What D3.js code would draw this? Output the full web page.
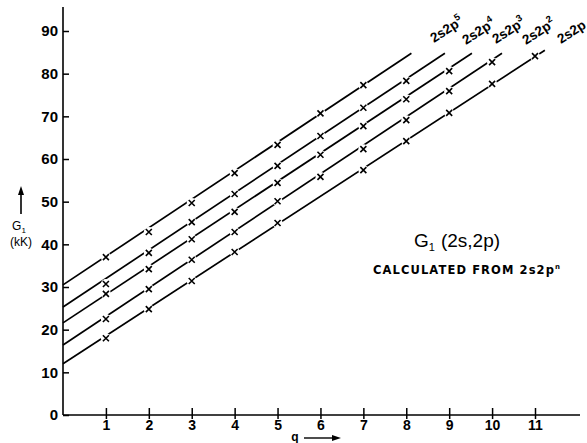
<!DOCTYPE html>
<html><head><meta charset="utf-8">
<script src="https://cdn.jsdelivr.net/npm/d3@7/dist/d3.min.js"></script>
<style>
body{margin:0;background:#fff;}
svg{display:block;font-family:"Liberation Sans",Arial,sans-serif;}
</style></head>
<body><svg id="c" width="587" height="443"></svg>
<script>
// ---- data ----
const qTicks = [1,2,3,4,5,6,7,8,9,10,11];
const yTicks = [0,10,20,30,40,50,60,70,80,90];
const seriesBase = ["2s2p","2s2p","2s2p","2s2p","2s2p"];
const seriesSup = ["5","4","3","2",""];
const g_2s2p5 = [37.0,42.9,49.7,56.7,63.3,70.7,77.3,null,null,null,null];
const g_2s2p4 = [30.7,38.0,45.2,51.8,58.4,65.4,72.0,78.3,null,null,null];
const g_2s2p3 = [28.4,34.2,41.2,47.6,54.4,61.0,67.7,74.0,80.6,null,null];
const g_2s2p2 = [22.5,29.5,36.4,42.9,50.1,55.8,62.3,69.1,75.9,82.7,null];
const g_2s2p1 = [18.0,24.8,31.4,38.2,45.0,null,57.4,64.2,70.8,77.6,84.1];
const fitStartG = [30.5,25.3,21.6,16.4,12.0];   // value at q = 0
const fitEndQ = [8.12,8.9,9.53,10.23,11.23];
const fitEndG = [84.8,84.8,84.8,84.8,85.5];
const seriesValues = [g_2s2p5,g_2s2p4,g_2s2p3,g_2s2p2,g_2s2p1];

// ---- layout ----
const svg = d3.select("#c");
const x = d3.scaleLinear().domain([0,11]).range([63,535]);
const y = d3.scaleLinear().domain([0,90]).range([415,31]);

// axes lines
svg.append("line").attr("x1",x(0)).attr("x2",580).attr("y1",y(0)).attr("y2",y(0))
  .attr("stroke","#000").attr("stroke-width",1.6);
svg.append("line").attr("x1",x(0)).attr("x2",x(0)).attr("y1",y(0)).attr("y2",7)
  .attr("stroke","#000").attr("stroke-width",1.6);

// y axis
const yAx = svg.append("g").attr("transform",`translate(${x(0)},0)`)
  .call(d3.axisLeft(y).tickValues(yTicks).tickSize(-6).tickPadding(5).tickFormat(d3.format("d")));
yAx.select(".domain").remove();
yAx.selectAll(".tick line").attr("stroke","#000").attr("stroke-width",1.5);
yAx.selectAll(".tick text").attr("font-size",15).attr("font-weight","bold").attr("fill","#000")
  .attr("font-family","'Liberation Sans',Arial,sans-serif");

// x axis
const xAx = svg.append("g").attr("transform",`translate(0,${y(0)})`)
  .call(d3.axisBottom(x).tickValues(qTicks).tickSize(-7).tickPadding(5).tickFormat(d3.format("d")));
xAx.select(".domain").remove();
xAx.selectAll(".tick line").attr("stroke","#000").attr("stroke-width",1.5).attr("y2",4).attr("y1",-7);
xAx.selectAll(".tick text").attr("font-size",14).attr("font-weight","bold").attr("fill","#000")
  .attr("font-family","'Liberation Sans',Arial,sans-serif");

// fit lines
const lineGen = d3.line().x(d=>x(d[0])).y(d=>y(d[1]));
seriesValues.forEach((vals,i)=>{
  svg.append("path").datum([[0,fitStartG[i]],[fitEndQ[i],fitEndG[i]]])
    .attr("d",lineGen).attr("stroke","#000").attr("stroke-width",1.7).attr("fill","none");
});

// points (x marks with small gaps in the line)
seriesValues.forEach((vals,i)=>{
  const pts = vals.map((v,j)=>({q:qTicks[j],v})).filter(d=>d.v!=null);
  const g = svg.append("g");
  g.selectAll("circle").data(pts).join("circle")
    .attr("cx",d=>x(d.q)).attr("cy",d=>y(d.v)).attr("r",5).attr("fill","#fff");
  g.selectAll("path").data(pts).join("path")
    .attr("d",d=>{const cx=x(d.q),cy=y(d.v),s=3;
      return `M${cx-s},${cy-s}L${cx+s},${cy+s}M${cx-s},${cy+s}L${cx+s},${cy-s}`;})
    .attr("stroke","#000").attr("stroke-width",1.6).attr("fill","none");
});

// series labels (rotated)
const labelPos = [[434,43],[466,45],[496,44],[526,45],[561,44]];
seriesBase.forEach((b,i)=>{
  const t = svg.append("text").attr("transform",`translate(${labelPos[i][0]},${labelPos[i][1]}) rotate(-33)`)
    .attr("font-size",13.5).attr("font-weight","bold").attr("fill","#000");
  t.append("tspan").text(b);
  if(seriesSup[i]) t.append("tspan").attr("dy",-6).attr("font-size",9.5).text(seriesSup[i]);
});

// y axis title
svg.append("line").attr("x1",21).attr("x2",21).attr("y1",214).attr("y2",193).attr("stroke","#000").attr("stroke-width",1.6);
svg.append("path").attr("d","M21,186 L18,195 L24,195 Z").attr("fill","#000");
const gt = svg.append("text").attr("x",19).attr("y",230).attr("text-anchor","middle").attr("font-size",12).attr("fill","#000");
gt.append("tspan").text("G");
gt.append("tspan").attr("dy",3).attr("font-size",8).text("1");
svg.append("text").attr("x",21).attr("y",246).attr("text-anchor","middle").attr("font-size",12).attr("fill","#000").text("(kK)");

// x axis title
svg.append("text").attr("x",295).attr("y",441).attr("text-anchor","middle").attr("font-size",12).attr("font-weight","bold").attr("fill","#000").text("q");
svg.append("line").attr("x1",304).attr("x2",334).attr("y1",438).attr("y2",438).attr("stroke","#000").attr("stroke-width",1.4);
svg.append("path").attr("d","M341,438 L332,435 L332,441 Z").attr("fill","#000");

// annotations
const t1 = svg.append("text").attr("x",414).attr("y",247).attr("font-size",19).attr("fill","#000");
t1.append("tspan").text("G");
t1.append("tspan").attr("dy",4).attr("font-size",11).text("1");
t1.append("tspan").attr("dy",-4).attr("dx",6).text("(2s,2p)");
const t2 = svg.append("text").attr("x",373).attr("y",274).attr("font-size",11.5).attr("font-weight","bold")
  .attr("font-family","'DejaVu Sans',sans-serif").attr("letter-spacing",1.1).attr("fill","#000");
t2.append("tspan").text("CALCULATED FROM  2s2p");
t2.append("tspan").attr("dy",-5).attr("font-size",7).text("n");
</script></body></html>
